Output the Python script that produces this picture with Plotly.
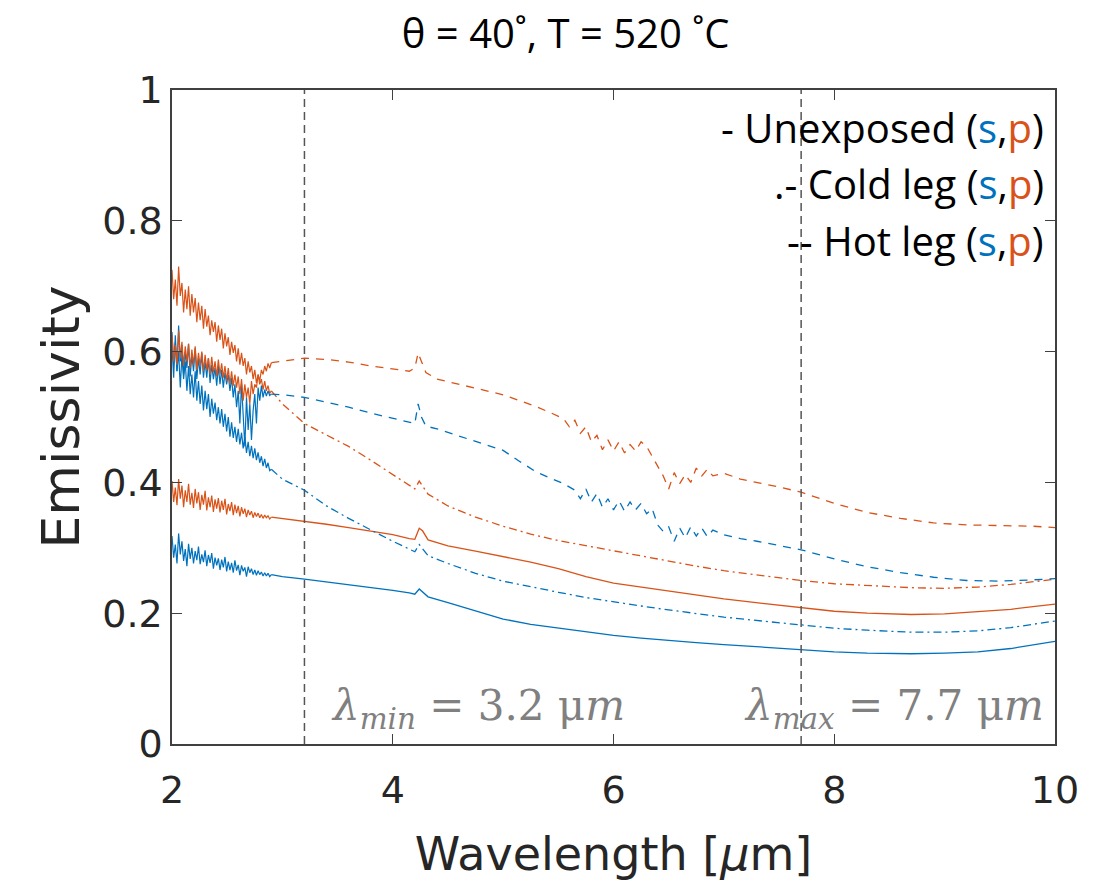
import plotly.graph_objects as go

# ---------------- data ----------------
# shared short-wavelength grid (noisy region, 2.0 - 2.9 um)
WL_SHORT = [2.000, 2.015, 2.030, 2.045, 2.060, 2.075, 2.090, 2.105, 2.120, 2.135,
            2.150, 2.165, 2.180, 2.195, 2.210, 2.225, 2.240, 2.255, 2.270, 2.285,
            2.300, 2.315, 2.330, 2.345, 2.360, 2.375, 2.390, 2.405, 2.420, 2.435,
            2.450, 2.465, 2.480, 2.495, 2.510, 2.525, 2.540, 2.555, 2.570, 2.585,
            2.600, 2.615, 2.630, 2.645, 2.660, 2.675, 2.690, 2.705, 2.720, 2.735,
            2.750, 2.765, 2.780, 2.795, 2.810, 2.825, 2.840, 2.855, 2.870, 2.885,
            2.900]

# grid used for the smoother curves beyond 3 um
WL_SMOOTH = [3.0, 3.2, 3.4, 3.6, 3.8, 4.0, 4.15, 4.2, 4.24, 4.27, 4.32, 4.5,
             4.75, 5.0, 5.25, 5.5, 5.75, 6.0, 6.25, 6.5, 6.75, 7.0, 7.35, 7.7,
             8.0, 8.3, 8.7, 9.0, 9.3, 9.6, 9.8, 10.0]

# Unexposed, s-polarisation (solid blue)
unexp_s_short = [0.318, 0.285, 0.305, 0.276, 0.322, 0.29, 0.31, 0.28, 0.298, 0.272,
                 0.306, 0.283, 0.3, 0.276, 0.295, 0.281, 0.302, 0.275, 0.29, 0.278,
                 0.296, 0.272, 0.289, 0.277, 0.292, 0.268, 0.285, 0.273, 0.284, 0.266,
                 0.282, 0.27, 0.286, 0.264, 0.279, 0.266, 0.277, 0.262, 0.281, 0.265,
                 0.274, 0.258, 0.273, 0.264, 0.27, 0.256, 0.271, 0.262, 0.268, 0.259,
                 0.266, 0.258, 0.265, 0.259, 0.263, 0.257, 0.262, 0.257, 0.261, 0.256,
                 0.259]
unexp_s_long = [0.256, 0.252, 0.248, 0.243, 0.239, 0.235, 0.231, 0.229, 0.237, 0.232, 0.225, 0.216,
                0.203, 0.191, 0.183, 0.177, 0.171, 0.166, 0.162, 0.158, 0.155, 0.152, 0.148, 0.145,
                0.141, 0.139, 0.138, 0.139, 0.141, 0.146, 0.151, 0.157]

# Unexposed, p-polarisation (solid orange)
unexp_p_short = [0.402, 0.37, 0.392, 0.365, 0.405, 0.375, 0.395, 0.362, 0.388, 0.37,
                 0.398, 0.366, 0.384, 0.361, 0.39, 0.368, 0.385, 0.358, 0.381, 0.366,
                 0.387, 0.357, 0.377, 0.362, 0.38, 0.355, 0.374, 0.36, 0.376, 0.354,
                 0.372, 0.358, 0.375, 0.351, 0.367, 0.356, 0.37, 0.35, 0.366, 0.353,
                 0.364, 0.348, 0.362, 0.352, 0.36, 0.347, 0.358, 0.35, 0.356, 0.346,
                 0.354, 0.348, 0.353, 0.346, 0.351, 0.345, 0.35, 0.346, 0.349, 0.344,
                 0.347]
unexp_p_long = [0.345, 0.341, 0.336, 0.331, 0.326, 0.32, 0.314, 0.313, 0.33, 0.326, 0.312, 0.303,
                0.295, 0.287, 0.278, 0.268, 0.256, 0.246, 0.24, 0.234, 0.228, 0.222, 0.215, 0.208,
                0.203, 0.2, 0.198, 0.199, 0.202, 0.206, 0.21, 0.214]

# Cold leg, s (dash-dot blue)
cold_s_short = [0.61, 0.56, 0.625, 0.57, 0.6, 0.545, 0.595, 0.558, 0.585, 0.54,
                0.578, 0.535, 0.565, 0.53, 0.57, 0.525, 0.555, 0.52, 0.548, 0.51,
                0.54, 0.512, 0.535, 0.5, 0.528, 0.505, 0.522, 0.495, 0.515, 0.49,
                0.512, 0.485, 0.505, 0.478, 0.5, 0.47, 0.492, 0.468, 0.485, 0.462,
                0.482, 0.458, 0.476, 0.452, 0.47, 0.445, 0.462, 0.44, 0.456, 0.437,
                0.452, 0.434, 0.446, 0.43, 0.44, 0.425, 0.436, 0.422, 0.43, 0.418,
                0.42]
cold_s_long = [0.405, 0.388, 0.364, 0.345, 0.327, 0.31, 0.298, 0.294, 0.305, 0.298, 0.288, 0.276,
               0.261, 0.249, 0.24, 0.232, 0.224, 0.217, 0.211, 0.205, 0.199, 0.194, 0.188, 0.182,
               0.177, 0.174, 0.171, 0.171, 0.173, 0.178, 0.183, 0.188]

# Cold leg, p (dash-dot orange)
cold_p_short = [0.725, 0.68, 0.71, 0.67, 0.73, 0.685, 0.705, 0.66, 0.695, 0.665,
                0.7, 0.655, 0.688, 0.66, 0.682, 0.645, 0.675, 0.648, 0.67, 0.635,
                0.665, 0.638, 0.655, 0.625, 0.648, 0.63, 0.645, 0.615, 0.64, 0.618,
                0.635, 0.605, 0.628, 0.608, 0.622, 0.595, 0.615, 0.598, 0.61, 0.585,
                0.605, 0.58, 0.598, 0.578, 0.59, 0.565, 0.585, 0.568, 0.578, 0.558,
                0.572, 0.552, 0.565, 0.55, 0.558, 0.542, 0.555, 0.54, 0.548, 0.536,
                0.54]
cold_p_long = [0.52, 0.49, 0.472, 0.455, 0.434, 0.412, 0.395, 0.39, 0.402, 0.395, 0.382, 0.364,
               0.347, 0.333, 0.321, 0.311, 0.303, 0.296, 0.288, 0.28, 0.272, 0.265, 0.257, 0.25,
               0.245, 0.242, 0.239, 0.238, 0.24, 0.244, 0.248, 0.252]

# Hot leg, s (dashed blue)
hot_s_short = [0.63, 0.58, 0.615, 0.57, 0.64, 0.585, 0.61, 0.565, 0.6, 0.575,
               0.612, 0.562, 0.595, 0.57, 0.605, 0.558, 0.59, 0.565, 0.598, 0.56,
               0.585, 0.56, 0.59, 0.552, 0.58, 0.558, 0.575, 0.548, 0.578, 0.55,
               0.572, 0.545, 0.568, 0.55, 0.565, 0.54, 0.56, 0.53, 0.55, 0.515,
               0.54, 0.49, 0.55, 0.5, 0.455, 0.53, 0.48, 0.52, 0.465, 0.51,
               0.535, 0.49, 0.545, 0.525, 0.548, 0.53, 0.542, 0.532, 0.54, 0.533,
               0.535]
hot_s_wl_long = [3.0, 3.2, 3.4, 3.6, 3.8, 4.0, 4.15, 4.2, 4.23, 4.26, 4.3, 4.4, 4.6, 4.8, 5.0,
                 5.15, 5.3, 5.45, 5.55, 5.65, 5.7, 5.75, 5.8, 5.85, 5.9, 5.95, 6.0, 6.05, 6.1,
                 6.15, 6.2, 6.25, 6.3, 6.35, 6.4, 6.45, 6.5, 6.55, 6.6, 6.65, 6.7, 6.75, 6.8,
                 6.85, 6.9, 7.0, 7.15, 7.3, 7.5, 7.7, 8.0, 8.3, 8.6, 8.9, 9.2, 9.5, 9.8, 10.0]
hot_s_long = [0.534, 0.53, 0.523, 0.515, 0.506, 0.498, 0.492, 0.49, 0.52, 0.50, 0.486, 0.482, 0.471,
              0.46, 0.449, 0.432, 0.416, 0.405, 0.398, 0.388, 0.375, 0.39, 0.37, 0.383, 0.362,
              0.375, 0.358, 0.372, 0.356, 0.37, 0.358, 0.368, 0.352, 0.36, 0.335, 0.325, 0.332,
              0.31, 0.33, 0.315, 0.332, 0.318, 0.33, 0.317, 0.327, 0.32, 0.314, 0.31, 0.303,
              0.297, 0.283, 0.271, 0.262, 0.255, 0.25, 0.249, 0.251, 0.253]

# Hot leg, p (dashed orange)
hot_p_short = [0.625, 0.585, 0.61, 0.58, 0.632, 0.59, 0.615, 0.578, 0.608, 0.585,
               0.612, 0.575, 0.603, 0.58, 0.608, 0.572, 0.598, 0.578, 0.6, 0.57,
               0.595, 0.572, 0.59, 0.565, 0.592, 0.568, 0.585, 0.562, 0.588, 0.565,
               0.582, 0.56, 0.578, 0.555, 0.575, 0.55, 0.57, 0.548, 0.565, 0.545,
               0.562, 0.535, 0.558, 0.525, 0.55, 0.53, 0.545, 0.52, 0.555, 0.535,
               0.55, 0.545, 0.565, 0.555, 0.572, 0.565, 0.578, 0.57, 0.582, 0.575,
               0.583]
hot_p_wl_long = [3.0, 3.2, 3.4, 3.6, 3.8, 4.0, 4.15, 4.2, 4.23, 4.26, 4.3, 4.4, 4.6, 4.8, 5.0,
                 5.15, 5.3, 5.45, 5.55, 5.6, 5.65, 5.7, 5.75, 5.8, 5.85, 5.9, 5.95, 6.0, 6.05,
                 6.1, 6.15, 6.2, 6.25, 6.3, 6.35, 6.4, 6.45, 6.5, 6.55, 6.6, 6.65, 6.7, 6.75,
                 6.8, 6.85, 6.9, 7.0, 7.15, 7.3, 7.5, 7.7, 8.0, 8.3, 8.6, 8.9, 9.2, 9.5, 9.8, 10.0]
hot_p_long = [0.585, 0.59, 0.588, 0.584, 0.578, 0.574, 0.57, 0.575, 0.598, 0.585, 0.568, 0.558,
              0.55, 0.542, 0.534, 0.525, 0.516, 0.505, 0.497, 0.485, 0.495, 0.475, 0.485, 0.462,
              0.472, 0.45, 0.465, 0.448, 0.462, 0.445, 0.458, 0.448, 0.462, 0.455, 0.44, 0.425,
              0.41, 0.39, 0.415, 0.398, 0.412, 0.40, 0.422, 0.41, 0.42, 0.41, 0.414, 0.405, 0.40,
              0.393, 0.385, 0.368, 0.354, 0.345, 0.338, 0.335, 0.334, 0.333, 0.331]

LAMBDA_MIN = 3.2
LAMBDA_MAX = 7.7

X_TICKS = [2, 4, 6, 8, 10]
Y_TICKS = [0, 0.2, 0.4, 0.6, 0.8, 1.0]
Y_TICK_TEXT = ["0", "0.2", "0.4", "0.6", "0.8", "1"]

BLUE = "#0072BD"
ORANGE = "#D95319"

# ---------------- figure ----------------
fig = go.Figure()

DASH_DOT = "8px,4px,2px,4px"
DASH = "8px,7px"

series = [
    (unexp_s_short, WL_SMOOTH, unexp_s_long, BLUE, "solid"),
    (unexp_p_short, WL_SMOOTH, unexp_p_long, ORANGE, "solid"),
    (cold_s_short, WL_SMOOTH, cold_s_long, BLUE, DASH_DOT),
    (cold_p_short, WL_SMOOTH, cold_p_long, ORANGE, DASH_DOT),
    (hot_s_short, hot_s_wl_long, hot_s_long, BLUE, DASH),
    (hot_p_short, hot_p_wl_long, hot_p_long, ORANGE, DASH),
]
for short_vals, wl_long, long_vals, col, dash in series:
    # dense, noisy short-wavelength part (appears as a solid fuzzy band)
    fig.add_trace(go.Scatter(x=WL_SHORT, y=short_vals, mode="lines",
                             line=dict(color=col, width=1.2),
                             showlegend=False, hoverinfo="skip"))
    # remaining part with the series' line style
    fig.add_trace(go.Scatter(x=[WL_SHORT[-1]] + wl_long, y=[short_vals[-1]] + long_vals,
                             mode="lines", line=dict(color=col, width=1.3, dash=dash),
                             showlegend=False, hoverinfo="skip"))

for lam in (LAMBDA_MIN, LAMBDA_MAX):
    fig.add_trace(go.Scatter(x=[lam, lam], y=[0, 1], mode="lines",
                             line=dict(color="#555555", width=1.5, dash="8px,5px"),
                             showlegend=False, hoverinfo="skip"))

AX_COL = "#404040"
TICK_FONT = dict(family="DejaVu Sans", size=38, color="#262626")

fig.update_xaxes(range=[2, 10], tickvals=X_TICKS, ticktext=[str(v) for v in X_TICKS],
                 ticks="inside", ticklen=10, tickcolor=AX_COL, tickwidth=1.2,
                 showline=True, linecolor=AX_COL, linewidth=1.5, mirror="ticks",
                 showgrid=False, zeroline=False, tickfont=TICK_FONT,
                 ticklabelstandoff=12,
                 title=dict(text="Wavelength [<i>μ</i>m]",
                            font=dict(family="DejaVu Sans", size=46, color="#262626"),
                            standoff=26))
fig.update_yaxes(range=[0, 1], tickvals=Y_TICKS, ticktext=Y_TICK_TEXT,
                 ticks="inside", ticklen=10, tickcolor=AX_COL, tickwidth=1.2,
                 showline=True, linecolor=AX_COL, linewidth=1.5, mirror="ticks",
                 showgrid=False, zeroline=False, tickfont=TICK_FONT,
                 title=dict(text="Emissivity",
                            font=dict(family="DejaVu Sans", size=52, color="#262626"),
                            standoff=6))

LEG_FONT = dict(family="Open Sans", size=40, color="black")
legend_lines = [
    ("- Unexposed", 0.942),
    (".- Cold leg", 0.857),
    ("-- Hot leg", 0.770),
]
for label, yy in legend_lines:
    fig.add_annotation(
        text=f"{label} (<span style='color:{BLUE}'>s</span>,<span style='color:{ORANGE}'>p</span>)",
        xref="paper", yref="paper", x=0.99, y=yy, xanchor="right", yanchor="middle",
        showarrow=False, font=LEG_FONT)

LAM_FONT = dict(family="DejaVu Serif", size=42, color="#808080")
fig.add_annotation(text=f"<i>λ</i><sub><i>min</i></sub> = {LAMBDA_MIN} μ<i>m</i>",
                   xref="x", yref="y", x=LAMBDA_MIN + 0.22, y=0.055,
                   xanchor="left", yanchor="middle", showarrow=False, font=LAM_FONT)
fig.add_annotation(text=f"<i>λ</i><sub><i>max</i></sub> = {LAMBDA_MAX} μ<i>m</i>",
                   xref="paper", yref="y", x=0.99, y=0.055,
                   xanchor="right", yanchor="middle", showarrow=False, font=LAM_FONT)

fig.update_layout(
    width=1109, height=891,
    margin=dict(l=172, r=54, t=90, b=147),
    paper_bgcolor="white", plot_bgcolor="white",
    title=dict(text="θ = 40˚, T = 520 ˚C", x=0.51, xanchor="center",
               y=0.962, yanchor="middle", yref="container",
               font=dict(family="Open Sans", size=40, color="black")),
)

fig.write_html("out.html")
